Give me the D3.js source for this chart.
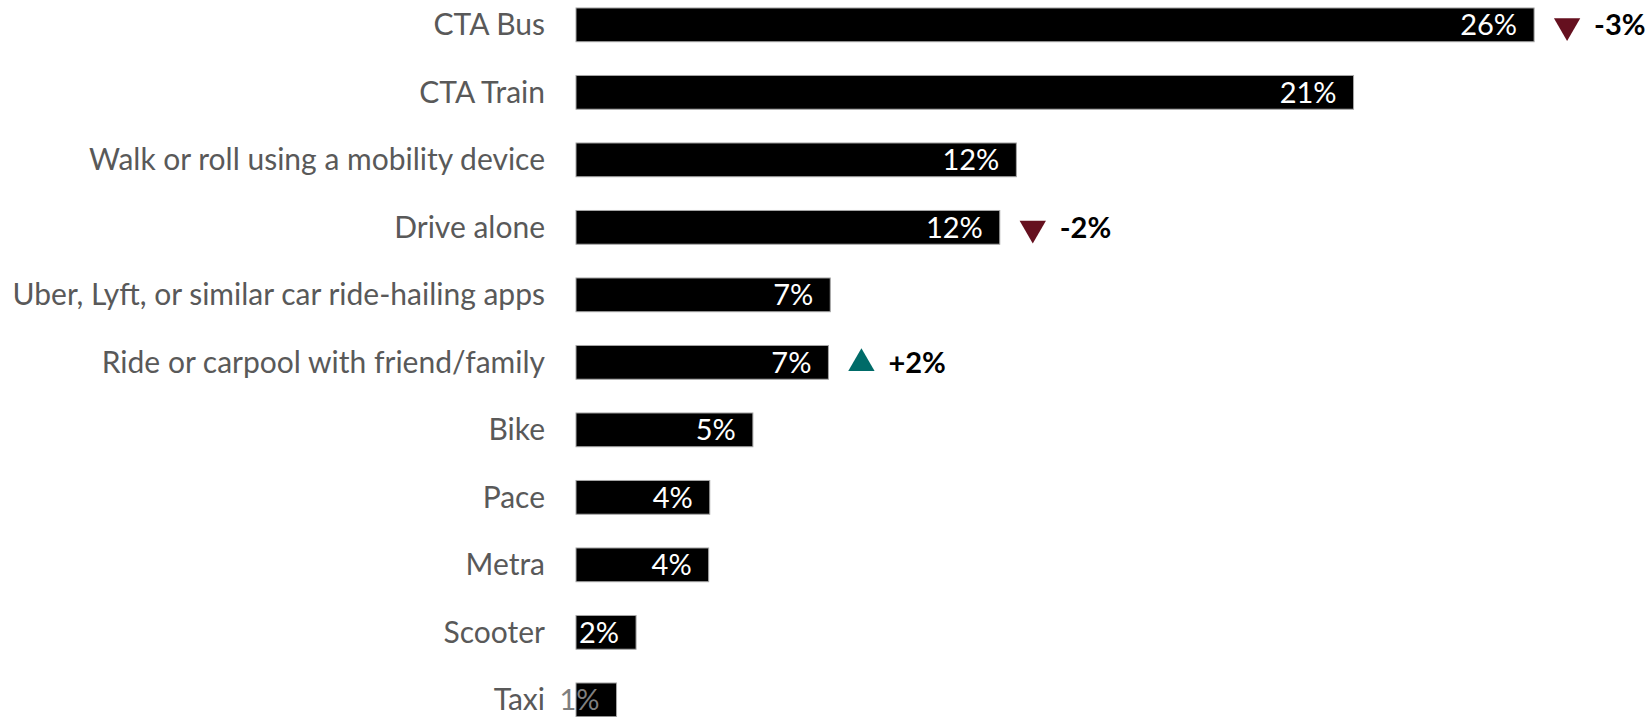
<!DOCTYPE html>
<html>
<head>
<meta charset="utf-8">
<script src="https://cdn.jsdelivr.net/npm/d3@7"></script>
<style>
    body { margin: 0; background: #fff; }
    .cat-label { font-family: Lato, "Open Sans", sans-serif; font-size: 30px; fill: #595959; }
    .val-label { font-family: Lato, "Open Sans", sans-serif; font-size: 29px; fill: #fff; }
    .chg-label { font-family: Lato, "Open Sans", sans-serif; font-size: 29px; font-weight: bold; fill: #000; }
</style>
</head>
<body>
<div id="vis"></div>
<script>
// Categories, shares (%) and change vs. prior survey (null = no notable change)
var categories = ['CTA Bus', 'CTA Train', 'Walk or roll using a mobility device', 'Drive alone',
    'Uber, Lyft, or similar car ride-hailing apps', 'Ride or carpool with friend/family',
    'Bike', 'Pace', 'Metra', 'Scooter', 'Taxi'];
var values = [26, 21.1, 11.95, 11.5, 6.9, 6.85, 4.8, 3.63, 3.6, 1.63, 1.1];
var changes = [-3, null, null, -2, null, 2, null, null, null, null, null];

var data = categories.map(function (c, i) {
    return { category: c, value: values[i], change: changes[i] };
});

// Size of the whole drawing
var width = 1646;
var height = 717;
var margin = { left: 576, top: -8.9 };

var svg = d3.select('#vis')
    .append('svg')
    .attr('width', width)
    .attr('height', height);

// Scales
var xScale = d3.scaleLinear()
    .domain([0, 30])
    .range([0, 1105.5]);

var yScale = d3.scaleBand()
    .domain(categories)
    .range([0, 742.5])
    .paddingInner(0.5)
    .paddingOuter(0.25);

var g = svg.append('g')
    .attr('transform', 'translate(' + margin.left + ',' + margin.top + ')');

// Category labels on the left, right aligned
g.selectAll('.cat-label')
    .data(data)
    .enter().append('text')
    .attr('class', 'cat-label')
    .attr('x', -31)
    .attr('y', function (d) { return yScale(d.category) + yScale.bandwidth() / 2; })
    .attr('dy', '0.35em')
    .attr('text-anchor', 'end')
    .text(function (d) { return d.category; });

// Bars
g.selectAll('rect')
    .data(data)
    .enter().append('rect')
    .attr('x', 0)
    .attr('y', function (d) { return yScale(d.category); })
    .attr('width', function (d) { return xScale(d.value); })
    .attr('height', yScale.bandwidth())
    .style('fill', '#000')
    .style('stroke', '#a6a6a6')
    .style('stroke-width', 1);

// Value labels inside the end of each bar
g.selectAll('.val-label')
    .data(data)
    .enter().append('text')
    .attr('class', 'val-label')
    .attr('x', function (d) { return xScale(d.value) - 17; })
    .attr('y', function (d) { return yScale(d.category) + yScale.bandwidth() / 2; })
    .attr('dy', '0.36em')
    .attr('text-anchor', 'end')
    .style('fill', function (d) { return xScale(d.value) < 50 ? '#7f7f7f' : '#fff'; })
    .text(function (d) { return Math.round(d.value) + '%'; });

// Change markers: triangle and bold change text
var changed = data.filter(function (d) { return d.change !== null; });

var tri = d3.symbol().type(d3.symbolTriangle).size(300);

g.selectAll('.chg-mark')
    .data(changed)
    .enter().append('path')
    .attr('class', 'chg-mark')
    .attr('d', tri)
    .attr('transform', function (d) {
        var cx = xScale(d.value) + 33;
        var cy = yScale(d.category) + yScale.bandwidth() / 2 + 1;
        return 'translate(' + cx + ',' + cy + ')' + (d.change < 0 ? ' rotate(180)' : '');
    })
    .style('fill', function (d) { return d.change < 0 ? '#65101f' : '#006b68'; });

g.selectAll('.chg-label')
    .data(changed)
    .enter().append('text')
    .attr('class', 'chg-label')
    .attr('x', function (d) { return xScale(d.value) + 60; })
    .attr('y', function (d) { return yScale(d.category) + yScale.bandwidth() / 2; })
    .attr('dy', '0.36em')
    .text(function (d) { return (d.change > 0 ? '+' : '') + d.change + '%'; });
</script>
</body>
</html>
